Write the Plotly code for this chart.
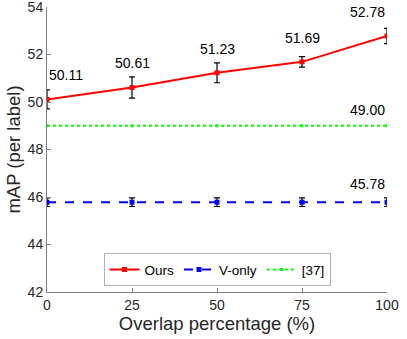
import plotly.graph_objects as go

overlap = [0, 25, 50, 75, 100]
ours = [50.11, 50.61, 51.23, 51.69, 52.78]
ours_err = [0.4, 0.45, 0.42, 0.22, 0.32]
v_only = [45.78, 45.78, 45.78, 45.78, 45.78]
v_only_err = [0.18, 0.18, 0.18, 0.18, 0.18]
ref37 = [49.0, 49.0, 49.0, 49.0, 49.0]
y_ticks = [42, 44, 46, 48, 50, 52, 54]

font = "Liberation Sans, Arial, sans-serif"
axis_color = "#262626"

fig = go.Figure()
fig.add_trace(go.Scatter(
    x=overlap, y=ours, name="Ours", mode="lines+markers",
    line=dict(color="#ff0000", width=2),
    marker=dict(symbol="square", size=5, color="#ff0000"),
    error_y=dict(type="data", array=ours_err, color="black", thickness=1.2, width=3),
))
fig.add_trace(go.Scatter(
    x=overlap, y=v_only, name="V-only", mode="lines+markers",
    line=dict(color="#0000ff", width=2, dash="dash"),
    marker=dict(symbol="square", size=5, color="#0000ff"),
    error_y=dict(type="data", array=v_only_err, color="black", thickness=1.2, width=3),
))
fig.add_trace(go.Scatter(
    x=overlap, y=ref37, name="[37]", mode="lines+markers",
    line=dict(color="#00ff00", width=2, dash="dot"),
    marker=dict(symbol="square", size=3, color="#00ff00"),
))

# value labels
for i, (x, y) in enumerate(zip(overlap, ours)):
    anchor = "left" if i == 0 else ("right" if i == len(overlap) - 1 else "center")
    fig.add_annotation(x=x, y=y + 0.6, text=f"{y:.2f}", showarrow=False,
                       xanchor=anchor, yanchor="bottom",
                       font=dict(size=14, color="black", family=font))
fig.add_annotation(x=overlap[-1], y=ref37[-1] + 0.25, text=f"{ref37[-1]:.2f}", showarrow=False,
                   xanchor="right", yanchor="bottom", font=dict(size=14, color="black", family=font))
fig.add_annotation(x=overlap[-1], y=v_only[-1] + 0.35, text=f"{v_only[-1]:.2f}", showarrow=False,
                   xanchor="right", yanchor="bottom", font=dict(size=14, color="black", family=font))

fig.update_xaxes(range=[0, 100], tickvals=overlap, showgrid=False, zeroline=False,
                 showline=True, linecolor="#808080", linewidth=1, automargin=False,
                 ticks="inside", ticklen=4, tickcolor="#808080", ticklabeloverflow="allow",
                 tickfont=dict(size=14, color=axis_color, family=font),
                 title=dict(text="Overlap percentage (%)", standoff=0,
                            font=dict(size=18.5, color=axis_color, family=font)))
fig.update_yaxes(range=[42, 54], tickvals=y_ticks, showgrid=False, zeroline=False,
                 showline=True, linecolor="#808080", linewidth=1, automargin=False,
                 ticks="inside", ticklen=4, tickcolor="#808080", ticklabeloverflow="allow",
                 tickfont=dict(size=14, color=axis_color, family=font),
                 title=dict(text="mAP (per label)", standoff=2,
                            font=dict(size=18.5, color=axis_color, family=font)))

fig.update_layout(
    width=407, height=339,
    margin=dict(l=47, r=20, t=7, b=47),
    plot_bgcolor="white", paper_bgcolor="white",
    legend=dict(orientation="h", x=0.5, y=0.02, xanchor="center", yanchor="bottom",
                bordercolor="#b0b0b0", borderwidth=1, bgcolor="white",
                font=dict(size=13.5, color="black", family=font),
                itemwidth=30, tracegroupgap=0),
)

fig.write_html("out.html", config={"displayModeBar": False},
               post_script="document.body.style.margin='0';")
